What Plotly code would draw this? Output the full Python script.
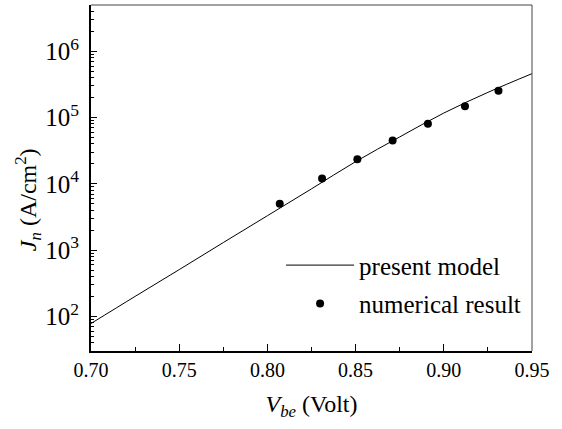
import plotly.graph_objects as go

# Model curve (present model)
model_v = [0.70, 0.725, 0.75, 0.775, 0.80, 0.825, 0.85, 0.875, 0.90, 0.925, 0.95]
model_j = [78, 200, 507, 1300, 3300, 8400, 21600, 51000, 117000, 240000, 460000]

# Numerical result points
num_v = [0.807, 0.831, 0.851, 0.871, 0.891, 0.912, 0.931]
num_j = [5000, 12000, 23500, 45000, 81000, 148000, 253000]

FONT = "Liberation Serif, Times New Roman, serif"

fig = go.Figure()
fig.add_trace(go.Scatter(
    x=model_v, y=model_j, mode="lines", name="present model",
    line=dict(color="black", width=1, shape="spline"),
    legendgroup="a",
))
fig.add_trace(go.Scatter(
    x=num_v, y=num_j, mode="markers", name="numerical result",
    marker=dict(color="black", size=8),
    legendgroup="b",
))

fig.update_layout(
    width=562, height=429,
    margin=dict(l=91, r=30, t=5, b=78),
    paper_bgcolor="white", plot_bgcolor="white",
    font=dict(family=FONT, color="black", size=20),
    showlegend=True,
    legend=dict(
        x=0.431, y=0.314, xanchor="left", yanchor="top",
        bgcolor="rgba(0,0,0,0)", font=dict(size=25, family=FONT),
        itemwidth=68, traceorder="grouped", tracegroupgap=3,
    ),
    xaxis=dict(
        range=[0.70, 0.95], tick0=0.70, dtick=0.05, tickformat=".2f",
        ticks="inside", ticklen=7, tickwidth=1, tickcolor="black",
        showline=True, linewidth=2, linecolor="black",
        showgrid=False, zeroline=False, automargin=False,
        minor=dict(ticks="inside", ticklen=4, dtick=0.025, tickcolor="black", showgrid=False),
        tickfont=dict(size=20, family=FONT),
        title=dict(text="<i>V</i><sub><i>be</i></sub> (Volt)", font=dict(size=24, family=FONT), standoff=15),
    ),
    yaxis=dict(
        type="log", range=[1.477, 6.699], dtick=1, exponentformat="power",
        ticks="inside", ticklen=6, tickwidth=1, tickcolor="black",
        showline=True, linewidth=2, linecolor="black",
        showgrid=False, zeroline=False, automargin=False,
        minor=dict(ticks="inside", ticklen=3, dtick="D1", tickcolor="black", showgrid=False),
        tickfont=dict(size=20, family=FONT),
        ticklabelstandoff=6,
    ),
    annotations=[
        dict(text="<i>J</i><sub><i>n</i></sub> (A/cm<sup>2</sup>)", textangle=-90,
             xref="paper", yref="paper", x=0, y=0.436, xanchor="center", yanchor="middle",
             xshift=-63, showarrow=False, font=dict(size=24, family=FONT)),
    ],
    shapes=[
        dict(type="line", xref="paper", yref="paper", x0=0, x1=1, y0=1, y1=1,
             line=dict(color="#444", width=1)),
        dict(type="line", xref="paper", yref="paper", x0=1, x1=1, y0=0, y1=1,
             line=dict(color="#444", width=1)),
    ],
)

fig.write_html("out.html", config={"displayModeBar": False},
               post_script="document.body.style.margin='0';document.body.style.padding='0';")
